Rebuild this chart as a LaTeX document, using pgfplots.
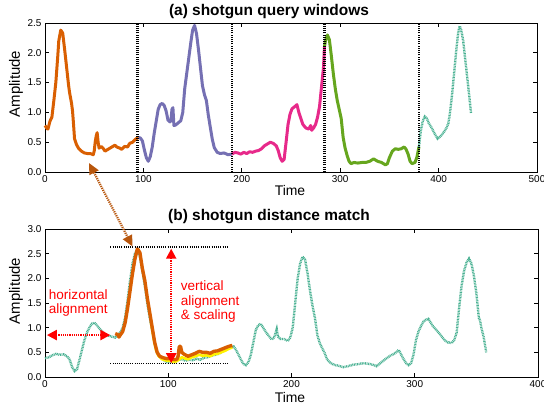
\documentclass[border=0pt]{standalone}
\usepackage{pgfplots}
\pgfplotsset{compat=1.18}
\usepackage{fontspec}
\setmainfont{Liberation Sans}
\usetikzlibrary{arrows.meta}
\definecolor{dOrange}{HTML}{D95F02}
\definecolor{dPurple}{HTML}{7570B3}
\definecolor{dPink}{HTML}{E7298A}
\definecolor{dGreen}{HTML}{66A61E}
\definecolor{dTeal}{HTML}{1B9E77}
\definecolor{brownarrow}{HTML}{B8560C}
\pgfplotsset{
  panel/.style={
    scale only axis, axis line style={line width=1pt},
    tick style={black, line width=0.8pt}, major tick length=4bp,
    tick label style={font=\fontsize{10}{12}\selectfont},
    /pgf/number format/assume math mode=true,
    yticklabel style={/pgf/number format/.cd, fixed, fixed zerofill, precision=1},
    xticklabel style={/pgf/number format/.cd, fixed, precision=0},
    clip=false,
  },
}
\tikzset{
  qline/.style={line width=3bp, line join=round},
  tline/.style={dTeal!80, line width=2.4bp, dash pattern=on 0.9bp off 0.7bp},
  guide/.style={black, line width=1.6bp, dash pattern=on 1.1bp off 1.1bp},
}
\begin{document}
\begin{tikzpicture}
% ---- (a) top panel
\begin{axis}[panel, at={(45bp,-172bp)}, anchor=south west, width=492bp, height=149bp,
  xmin=0, xmax=500, ymin=0, ymax=2.5, xtick={0,100,...,500}, ytick={0,0.5,...,2.5}]
\addplot[tline] coordinates {(380,0.42) (382,0.7) (384,0.86) (386,0.93) (388,0.9) (390,0.82) (393,0.74) (396,0.64) (399,0.56) (402,0.6) (405,0.66) (408,0.74) (410,0.82) (412,1.05) (414,1.35) (416,1.7) (418,2.05) (420,2.35) (421.5,2.45) (423,2.38) (425,2.2) (427,1.9) (429,1.6) (431,1.3) (433,0.98)};
\addplot[qline, dOrange] coordinates {(0,0.78) (2,0.73) (3,0.72) (5,0.85) (7,0.92) (9,1.2) (11,1.5) (13,1.95) (14,2.2) (16,2.38) (18,2.33) (20,2.05) (22,1.75) (24,1.45) (25,1.33) (27,1.15) (28,1.02) (29,0.8) (30,0.56) (32,0.46) (34,0.40) (37,0.35) (40,0.32) (43,0.31) (46,0.31) (49,0.29) (50,0.35) (51,0.5) (52,0.6) (53,0.66) (54,0.5) (55,0.40) (57,0.43) (59,0.4) (61,0.35) (64,0.38) (67,0.41) (69,0.43) (71,0.45) (73,0.42) (76,0.40) (78,0.38) (81,0.43) (84,0.42) (86,0.48) (89,0.50) (92,0.55) (95,0.58)};
\addplot[qline, dPurple] coordinates {(95,0.58) (97,0.57) (99,0.52) (101,0.37) (103,0.24) (105,0.18) (107,0.26) (109,0.42) (111,0.65) (113,0.85) (115,1.05) (117,1.13) (119,1.15) (121,1.12) (123,1.03) (125,0.87) (127,0.84) (128,0.86) (129,1.05) (130,1.08) (131,0.78) (133,0.79) (135,0.82) (138,0.86) (140,1.0) (142,1.4) (144,1.65) (146,1.9) (148,2.15) (150,2.38) (152,2.46) (154,2.32) (156,2.05) (158,1.75) (160,1.45) (162,1.3) (164,1.2) (166,0.95) (168,0.75) (170,0.55) (172,0.41) (175,0.33) (178,0.31) (182,0.32) (186,0.29) (190,0.30)};
\addplot[qline, dPink] coordinates {(190,0.30) (193,0.33) (196,0.32) (199,0.30) (202,0.33) (205,0.31) (208,0.34) (211,0.33) (214,0.35) (217,0.36) (220,0.39) (223,0.44) (226,0.47) (229,0.50) (232,0.48) (235,0.44) (237,0.36) (239,0.24) (241,0.18) (243,0.21) (245,0.5) (247,0.8) (249,0.97) (251,1.06) (254,1.1) (256,1.13) (258,1.0) (260,0.9) (262,0.8) (265,0.74) (268,0.72) (270,0.78) (271,0.7) (273,0.74) (275,0.8) (277,0.92) (279,1.1) (281,1.43) (283,1.75) (284,2.1)};
\addplot[qline, dGreen] coordinates {(284,2.1) (285,2.2) (287,2.3) (289,2.22) (291,1.95) (293,1.65) (295,1.4) (297,1.2) (299,1.05) (301,0.9) (303,0.58) (305,0.4) (307,0.28) (309,0.18) (311,0.14) (314,0.16) (318,0.15) (322,0.16) (326,0.16) (330,0.18) (334,0.22) (338,0.18) (342,0.16) (346,0.12) (348,0.14) (350,0.24) (353,0.35) (356,0.39) (359,0.38) (362,0.39) (365,0.42) (367,0.38) (369,0.3) (371,0.18) (373,0.14) (376,0.16) (378,0.25) (380,0.42)};
\foreach \xv in {94,190,284,380} {
  \edef\tmp{\noexpand\draw[guide, line width=2.2bp] (axis cs:\xv,0) -- (axis cs:\xv,2.5);}\tmp
}
\end{axis}
% ---- (b) bottom panel
\begin{axis}[panel, at={(45bp,-377bp)}, anchor=south west, width=493bp, height=148bp,
  xmin=0, xmax=400, ymin=0, ymax=3, xtick={0,100,...,400}, ytick={0,0.5,...,3}]
\addplot[tline] coordinates {(0,0.38) (3,0.40) (6,0.44) (9,0.47) (12,0.45) (15,0.46) (18,0.42) (20,0.35) (22,0.2) (24,0.12) (26,0.16) (28,0.35) (30,0.55) (32,0.75) (34,0.9) (36,1.0) (38,1.08) (40,1.1) (42,1.05) (44,0.99) (46,0.93) (48,0.88) (51,0.84) (54,0.82) (57,0.8) (59,0.85) (61,0.9) (63,1.0) (65,1.2) (67,1.55) (69,1.95) (71,2.3) (73,2.5) (75,2.58) (77,2.45) (79,2.15) (81,1.85) (83,1.5) (85,1.2) (87,0.95) (89,0.68) (91,0.5) (93,0.42) (96,0.35) (99,0.3) (102,0.32) (105,0.3) (108,0.35) (111,0.36) (114,0.33) (117,0.35) (120,0.34) (123,0.37) (126,0.35) (129,0.39) (132,0.4) (135,0.43) (138,0.45) (141,0.47) (144,0.52) (147,0.57) (150,0.6) (153,0.62) (155,0.55) (157,0.45) (159,0.35) (161,0.26) (163,0.24) (165,0.3) (167,0.45) (169,0.7) (171,0.95) (173,1.05) (175,1.08) (177,1.0) (179,0.92) (181,0.85) (184,0.76) (186,0.8) (188,0.97) (189,0.82) (191,0.77) (194,0.77) (197,0.73) (199,0.8) (201,1.0) (203,1.5) (205,2.0) (207,2.3) (209,2.44) (211,2.38) (213,2.1) (215,1.75) (217,1.45) (219,1.2) (221,0.85) (223,0.68) (225,0.58) (227,0.48) (229,0.35) (231,0.3) (234,0.25) (238,0.23) (242,0.2) (246,0.22) (250,0.25) (254,0.26) (258,0.28) (262,0.27) (266,0.25) (269,0.22) (272,0.28) (276,0.36) (280,0.43) (284,0.48) (287,0.55) (289,0.45) (291,0.36) (293,0.28) (295,0.24) (297,0.28) (299,0.45) (301,0.75) (303,0.92) (305,1.03) (307,1.12) (309,1.16) (311,1.18) (313,1.1) (315,1.02) (318,0.94) (321,0.85) (324,0.75) (327,0.7) (330,0.69) (332,0.75) (334,0.9) (336,1.4) (338,1.85) (340,2.15) (342,2.32) (344,2.4) (346,2.3) (348,2.05) (350,1.7) (352,1.2) (353,1.15) (354,1.0) (356,0.8) (358,0.5)};
\addplot[yellow, line width=2.6bp, line join=round] coordinates {(86,1.1) (88,0.8) (90,0.55) (92,0.43) (95,0.36) (99,0.33) (102,0.33) (105,0.3) (108,0.34) (111,0.4) (113,0.38) (116,0.36) (119,0.4) (122,0.42) (125,0.45) (128,0.43) (131,0.44) (134,0.42) (137,0.46) (140,0.47) (143,0.5) (146,0.53) (149,0.57) (152,0.6)};
\addplot[qline, dOrange, line width=3.4bp] coordinates {(57,0.88) (59,0.86) (60,0.81) (61,0.85) (63,0.92) (65,1.1) (67,1.4) (69,1.75) (71,2.1) (73,2.4) (75,2.6) (77,2.52) (79,2.2) (81,1.95) (83,1.6) (85,1.3) (87,1.0) (89,0.7) (91,0.5) (93,0.42) (96,0.39) (99,0.37) (102,0.38) (105,0.35) (107,0.36) (108,0.42) (109,0.62) (110,0.62) (111,0.5) (113,0.46) (116,0.42) (119,0.45) (122,0.48) (125,0.52) (128,0.5) (131,0.5) (134,0.48) (137,0.52) (140,0.53) (143,0.56) (146,0.59) (149,0.62) (152,0.64)};
% alignment guides
\draw[guide] (axis cs:53,2.64) -- (axis cs:149,2.64);
\draw[guide] (axis cs:53,0.27) -- (axis cs:149,0.27);
\draw[red, line width=2.2bp, dash pattern=on 1.2bp off 1bp, {Triangle[length=10bp,width=10bp]}-{Triangle[length=10bp,width=10bp]}] (axis cs:102.4,2.6) -- (axis cs:102.4,0.28);
\draw[red, line width=2.2bp, dash pattern=on 1.2bp off 1bp, {Triangle[length=10bp,width=10bp]}-{Triangle[length=10bp,width=10bp]}] (axis cs:1.5,0.85) -- (axis cs:53,0.85);
\node[red, anchor=west, align=left, font=\fontsize{13.6}{15}\selectfont, inner sep=0pt] at (axis cs:3,1.50) {horizontal\\alignment};
\node[red, anchor=west, align=left, font=\fontsize{13.6}{15}\selectfont, inner sep=0pt] at (axis cs:110,1.53) {vertical\\alignment\\\& scaling};
\end{axis}
% titles and labels
\node[font=\bfseries\fontsize{15.5}{18}\selectfont] at (269bp,-12bp) {(a) shotgun query windows};
\node[font=\bfseries\fontsize{15.5}{18}\selectfont] at (269bp,-217bp) {(b) shotgun distance match};
\node[font=\fontsize{14}{16}\selectfont] at (290bp,-191bp) {Time};
\node[font=\fontsize{14}{16}\selectfont] at (290bp,-398bp) {Time};
\node[font=\fontsize{15}{17}\selectfont, rotate=90] at (16bp,-84bp) {Amplitude};
\node[font=\fontsize{15}{17}\selectfont, rotate=90] at (16bp,-291bp) {Amplitude};
% link arrow between panels
\draw[brownarrow, line width=2.2bp, dash pattern=on 1.2bp off 1bp, {Triangle[length=11bp,width=10bp]}-{Triangle[length=11bp,width=10bp]}] (89bp,-163bp) -- (132.5bp,-246.5bp);
\pgfresetboundingbox
\path[use as bounding box] (0bp,0bp) rectangle (544bp,-407bp);
\end{tikzpicture}
\end{document}
